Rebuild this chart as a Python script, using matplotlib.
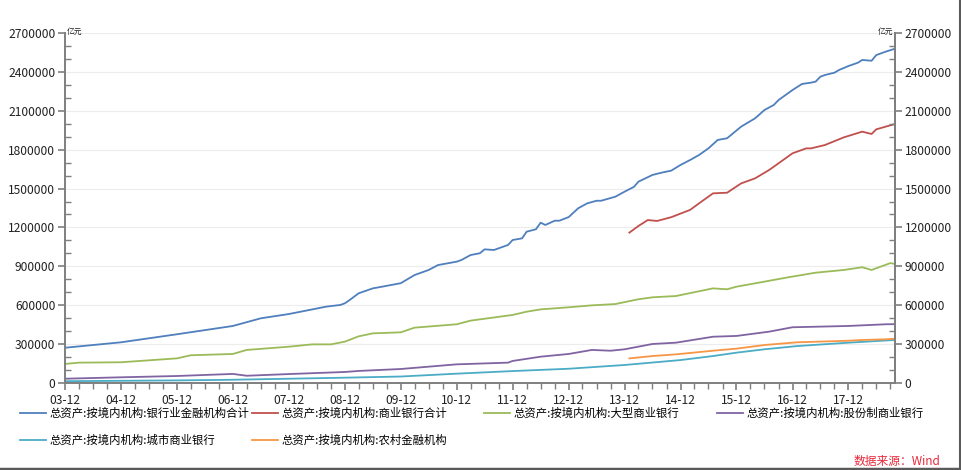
import matplotlib
matplotlib.use("Agg")
import matplotlib.pyplot as plt
import matplotlib.dates as mdates
import pandas as pd
from matplotlib.lines import Line2D

plt.rcParams['font.family'] = ['Noto Sans CJK SC', 'DejaVu Sans']
plt.rcParams['axes.unicode_minus'] = False

# ---------------- data (亿元) ----------------
total_dates = ['2003-12', '2004-12', '2005-12', '2006-12', '2007-06', '2007-12', '2008-08', '2008-11',
               '2008-12', '2009-01', '2009-03', '2009-06', '2009-08', '2009-12', '2010-03', '2010-06',
               '2010-08', '2010-12', '2011-01', '2011-03', '2011-05', '2011-06', '2011-08', '2011-11',
               '2011-12', '2012-02', '2012-03', '2012-05', '2012-06', '2012-07', '2012-09', '2012-10',
               '2012-12', '2013-02', '2013-04', '2013-06', '2013-07', '2013-10', '2013-12', '2014-02',
               '2014-03', '2014-06', '2014-08', '2014-10', '2014-12', '2015-02', '2015-04', '2015-06',
               '2015-08', '2015-10', '2016-01', '2016-04', '2016-06', '2016-08', '2016-09', '2016-12',
               '2017-02', '2017-04', '2017-05', '2017-06', '2017-07', '2017-09', '2017-10', '2017-12',
               '2018-02', '2018-03', '2018-05', '2018-06', '2018-08', '2018-10']
total_vals = [272000, 314000, 376000, 440000, 499000, 532000, 589000, 602000,
              615000, 640000, 692000, 730000, 743000, 770000, 833000, 872000,
              910000, 936000, 949000, 987000, 1001000, 1031000, 1026000, 1065000,
              1103000, 1116000, 1167000, 1186000, 1237000, 1219000, 1252000, 1252000,
              1280000, 1348000, 1386000, 1406000, 1406000, 1437000, 1476000, 1514000,
              1553000, 1605000, 1623000, 1638000, 1682000, 1720000, 1759000, 1810000,
              1875000, 1888000, 1978000, 2042000, 2106000, 2145000, 2183000, 2260000,
              2307000, 2317000, 2325000, 2363000, 2376000, 2394000, 2415000, 2445000,
              2471000, 2492000, 2486000, 2530000, 2556000, 2579000]

comm_dates = ['2014-01', '2014-03', '2014-05', '2014-07', '2014-10', '2015-02', '2015-04', '2015-07',
              '2015-10', '2016-01', '2016-04', '2016-07', '2016-09', '2016-12', '2017-03', '2017-04',
              '2017-07', '2017-11', '2018-03', '2018-05', '2018-06', '2018-10']
comm_vals = [1160000, 1211000, 1257000, 1250000, 1279000, 1335000, 1386000, 1463000,
             1468000, 1540000, 1579000, 1643000, 1695000, 1772000, 1810000, 1810000,
             1836000, 1895000, 1939000, 1921000, 1957000, 1998000]

large_dates = ['2003-12', '2004-03', '2004-12', '2005-12', '2006-03', '2006-12', '2007-03', '2007-12',
               '2008-05', '2008-09', '2008-12', '2009-03', '2009-06', '2009-12', '2010-03', '2010-12',
               '2011-03', '2011-12', '2012-03', '2012-06', '2012-12', '2013-05', '2013-10', '2014-03',
               '2014-06', '2014-11', '2015-07', '2015-10', '2015-12', '2016-06', '2016-11', '2017-05',
               '2017-11', '2018-03', '2018-05', '2018-09', '2018-10']
large_vals = [147000, 157000, 160000, 190000, 214000, 224000, 255000, 280000,
              298000, 298000, 319000, 360000, 383000, 391000, 427000, 453000,
              481000, 525000, 550000, 568000, 584000, 599000, 609000, 646000,
              661000, 671000, 730000, 723000, 743000, 782000, 815000, 851000,
              872000, 893000, 872000, 925000, 918000]

joint_dates = ['2003-12', '2004-12', '2005-12', '2006-12', '2007-03', '2007-12', '2008-12', '2009-03',
               '2009-12', '2010-12', '2011-11', '2011-12', '2012-06', '2012-12', '2013-05', '2013-09',
               '2013-12', '2014-06', '2014-11', '2015-07', '2015-12', '2016-07', '2016-12', '2017-12',
               '2018-08', '2018-10']
joint_vals = [33000, 44000, 54000, 70000, 56000, 69000, 85000, 93000,
              108000, 144000, 157000, 170000, 203000, 224000, 255000, 249000,
              260000, 301000, 311000, 357000, 363000, 396000, 430000, 440000,
              453000, 454000]

city_dates = ['2003-12', '2004-12', '2005-12', '2006-12', '2007-12', '2008-12', '2009-12', '2010-12',
              '2011-12', '2012-12', '2013-12', '2014-12', '2015-07', '2015-12', '2016-06', '2017-01',
              '2017-12', '2018-10']
city_vals = [14000, 17000, 20000, 25000, 33000, 41000, 50000, 72000,
             92000, 110000, 139000, 177000, 208000, 234000, 260000, 285000,
             311000, 332000]

rural_dates = ['2014-01', '2014-06', '2014-11', '2015-07', '2015-12', '2016-06', '2017-01', '2017-12',
               '2018-03', '2018-08', '2018-10']
rural_vals = [190000, 208000, 221000, 249000, 265000, 293000, 314000, 326000,
              332000, 337000, 342000]

series_names = ['总资产:按境内机构:银行业金融机构合计', '总资产:按境内机构:商业银行合计',
                '总资产:按境内机构:大型商业银行', '总资产:按境内机构:股份制商业银行',
                '总资产:按境内机构:城市商业银行', '总资产:按境内机构:农村金融机构']
series_colors = ['#4f7fbd', '#c0504d', '#9bbb59', '#8064a2', '#4bacc6', '#f79646']

y_ticks = [0, 300000, 600000, 900000, 1200000, 1500000, 1800000, 2100000, 2400000, 2700000]
unit_label = '亿元'
source_label = '数据来源：Wind'

# ---------------- figure ----------------
W, H = 962, 470
fig = plt.figure(figsize=(W / 100, H / 100), dpi=100)
fig.patch.set_facecolor('white')

L, R, T, B = 65, 895, 33, 383
ax = fig.add_axes([L / W, 1 - B / H, (R - L) / W, (B - T) / H])

all_series = [(total_dates, total_vals), (comm_dates, comm_vals), (large_dates, large_vals),
              (joint_dates, joint_vals), (city_dates, city_vals), (rural_dates, rural_vals)]
lines = []
for (d, v), name, c in zip(all_series, series_names, series_colors):
    ln, = ax.plot(pd.to_datetime(d), v, color=c, lw=1.3, label=name, solid_joinstyle='round')
    lines.append(ln)

ax.set_xlim(pd.Timestamp('2003-12-01'), pd.Timestamp('2018-10-01'))
ax.set_ylim(0, 2700000)

ax.xaxis.set_major_locator(mdates.MonthLocator(bymonth=[12]))
ax.xaxis.set_major_formatter(mdates.DateFormatter('%y-%m'))
ax.xaxis.set_minor_locator(mdates.MonthLocator(bymonth=[3, 6, 9]))

ax.set_yticks(y_ticks)
ax.set_yticklabels([str(t) for t in y_ticks])
ax.yaxis.set_minor_locator(matplotlib.ticker.MultipleLocator(100000))
ax.grid(axis='y', which='major', color='#ececec', lw=0.8)
ax.set_axisbelow(True)

axis_col = '#7f7f7f'
for s in ['top']:
    ax.spines[s].set_visible(False)
ax.spines['left'].set_color(axis_col)
ax.spines['bottom'].set_color(axis_col)
ax.spines['right'].set_color(axis_col)
for s in ['left', 'bottom', 'right']:
    ax.spines[s].set_linewidth(1.4)

ax.tick_params(axis='both', which='major', labelsize=8.7, colors='#222222')
ax.tick_params(axis='y', which='major', direction='out', length=5, color=axis_col, width=1.2, pad=2)
ax.tick_params(axis='y', which='minor', direction='in', length=4, color=axis_col, width=1.0)
ax.tick_params(axis='x', which='major', direction='out', length=5, color=axis_col, width=1.2, pad=3)
ax.tick_params(axis='x', which='minor', direction='out', length=4, color=axis_col, width=1.0)

ax2 = ax.twinx()
ax2.set_ylim(ax.get_ylim())
ax2.set_yticks(y_ticks)
ax2.set_yticklabels([str(t) for t in y_ticks])
ax2.yaxis.set_minor_locator(matplotlib.ticker.MultipleLocator(100000))
for s in ['top', 'left', 'bottom']:
    ax2.spines[s].set_visible(False)
ax2.spines['right'].set_color(axis_col)
ax2.spines['right'].set_linewidth(1.4)
ax2.tick_params(axis='y', which='major', labelsize=8.7, colors='#222222', direction='out', length=5,
                width=1.2, pad=2)
ax2.tick_params(axis='y', which='major', color=axis_col)
ax2.tick_params(axis='y', which='minor', direction='in', length=4, color=axis_col, width=1.0)

# unit labels
fig.text((L + 2) / W, 1 - (T - 1) / H, unit_label, fontsize=5.6, ha='left', va='center', color='#222222')
fig.text((R - 2) / W, 1 - (T - 1) / H, unit_label, fontsize=5.6, ha='right', va='center', color='#222222')

# legend: one slot per item
slots = [(20, 413), (252, 413), (484, 413), (717, 413), (20, 440), (252, 440)]
for ln, (sx, sy) in zip(lines, slots):
    fig.legend(handles=[ln], labels=[ln.get_label()], loc='center left',
               bbox_to_anchor=(sx / W, 1 - sy / H), frameon=False, fontsize=8.2,
               handlelength=2.3, handletextpad=0.25, borderpad=0, borderaxespad=0)

fig.text(940 / W, 1 - 461 / H, source_label, fontsize=8.5, color='#e8283a', ha='right', va='center',
         style='italic')

# frame lines at bottom and right edge
fig.add_artist(Line2D([0, 1], [1.5 / H, 1.5 / H], transform=fig.transFigure, color='#5a5a5a', lw=2.5))
fig.add_artist(Line2D([960.5 / W, 960.5 / W], [0, 1], transform=fig.transFigure, color='#5a5a5a', lw=1.5))

fig.savefig('out.png', dpi=100, facecolor='white')
